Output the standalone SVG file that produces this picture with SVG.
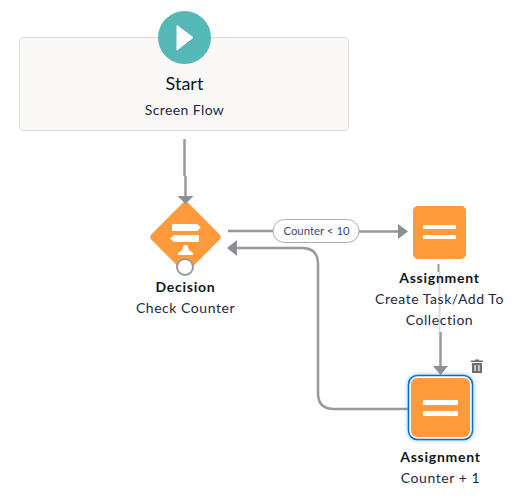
<svg xmlns="http://www.w3.org/2000/svg" width="519" height="496" viewBox="0 0 519 496">
<defs>
<style>
text{font-family:"Lato","Open Sans","Liberation Sans",sans-serif;fill:#1b2a45;text-anchor:middle}
.t{font-size:14px;font-weight:700;fill:#101620;letter-spacing:.75px}
.s{font-size:14px;fill:#1b2a45;letter-spacing:.55px}
.c{fill:none;stroke:#97999e;stroke-width:2.500}
.a{fill:#8d8f96}
.o{fill:#ff9a3c}
.w{fill:#fff}
</style>
<filter id="glow" x="-30%" y="-30%" width="160%" height="160%"><feGaussianBlur stdDeviation="2.500"/></filter>
</defs>
<rect width="519" height="496" fill="#fff"/>
<g id="decision">
<rect class="o" x="159.500" y="211" width="52" height="52" rx="4" transform="rotate(45 185.500 237)"/>
<path class="w" d="M172 224H197L201 227.500L197 231H172ZM174 235H199V242H174L170 238.500Z"/>
<path class="w" d="M184 245H187L189 250L193 253V255H178V253L182 250Z"/>
<circle cx="185" cy="267" r="8" fill="#fff" stroke="#97999e" stroke-width="2"/>
<text class="t" x="185.500" y="292">Decision</text>
<text class="s" x="185.500" y="313">Check Counter</text>
</g>
<g id="connectors">
<path class="c" d="M184.500 139V176M185.500 176V197"/>
<polygon class="a" points="177.500,196 193.500,196 185.500,204"/>
<path class="c" d="M228 231H274"/>
<path class="c" d="M359 231.500H398"/>
<polygon class="a" points="398,224 408,231.500 398,239"/>
<path d="M438.500 264V272" fill="none" stroke="#97999e" stroke-width="2"/>
<path d="M439.500 272V332" fill="none" stroke="#dcdcdf" stroke-width="2"/>
<path class="c" d="M440.500 332V367"/>
<polygon class="a" points="433,366 448,366 440.500,375"/>
<path class="c" d="M408 409H334Q318 409 318 393V264Q318 248 302 248H236"/>
<polygon class="a" points="237,240 237,256 227,248"/>
</g>
<g id="start">
<rect x="19.500" y="37.500" width="329" height="93" rx="4" fill="#faf9f7" stroke="#dddbda"/>
<circle cx="184.500" cy="37.500" r="26.500" fill="#55b7b6"/>
<path class="w" d="M177 25.500L193 37.500L177 50Z" stroke="#fff" stroke-linejoin="round"/>
<text x="184.500" y="90" style="font-size:18px;fill:#101620">Start</text>
<text class="s" x="184.500" y="115" style="letter-spacing:.4px">Screen Flow</text>
</g>
<g id="edge-label">
<rect x="273" y="219.500" width="86" height="23" rx="11.500" fill="#fff" stroke="#b0adab"/>
<text x="316.500" y="235" style="font-size:11.400px;fill:#3e4a6b">Counter &lt; 10</text>
</g>
<g id="assignment1">
<rect class="o" x="413" y="206" width="53" height="53" rx="5"/>
<rect class="w" x="423" y="225" width="33" height="4" rx="1"/>
<rect class="w" x="423" y="235" width="33" height="4" rx="1"/>
<text class="t" x="439.500" y="283">Assignment</text>
<text class="s" x="439.500" y="304">Create Task/Add To</text>
<text class="s" x="439.500" y="325">Collection</text>
</g>
<g id="assignment2">
<rect x="408" y="375" width="65" height="65" rx="9" fill="#1589ee" opacity=".55" filter="url(#glow)"/>
<rect x="408.500" y="375.500" width="64" height="64" rx="9" fill="#fff" stroke="#0070d2" stroke-width="1.500"/>
<rect class="o" x="411" y="378" width="59" height="59" rx="6"/>
<rect class="w" x="423" y="400" width="35" height="5" rx="1"/>
<rect class="w" x="423" y="411" width="35" height="5" rx="1"/>
<text class="t" x="440.500" y="462">Assignment</text>
<text class="s" x="440.500" y="483">Counter + 1</text>
</g>
<g id="delete">
<path fill="#706e6b" d="M472 363H482V373H472ZM471 360.500H475V359.500H479V360.500H483V362H471Z"/>
<path fill="#fff" d="M474.500 365H475.700V371H474.500ZM478.300 365H479.500V371H478.300Z"/>
</g>
</svg>
